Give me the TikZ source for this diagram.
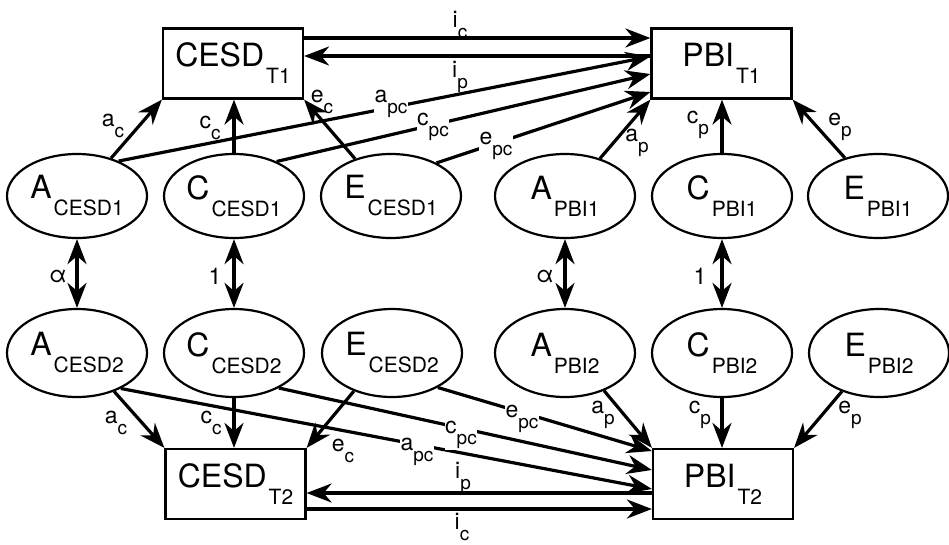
\documentclass[tikz,border=0pt]{standalone}
\usepackage{fontspec}
\setmainfont{TeX Gyre Heros}
\usetikzlibrary{arrows.meta,shapes.geometric}

\newcommand\bigsub[2]{{\fontsize{32}{32}\selectfont #1}\kern2pt\raisebox{-17pt}{\fontsize{21}{21}\selectfont #2}}
\newcommand\smallsub[2]{#1\raisebox{-0.5em}{\fontsize{19}{19}\selectfont #2}}

\begin{document}
\begin{tikzpicture}[x=1pt,y=-1pt,
  lat/.style={draw,ellipse,line width=2.2pt,inner sep=0pt,minimum width=140pt,minimum height=84pt},
  lattwo/.style={lat,minimum height=88pt},
  obs/.style={draw,rectangle,line width=2.2pt,inner sep=0pt,minimum width=140pt,minimum height=70pt},
  arr/.style={line width=3.2pt,-{Stealth[length=25pt,width=19pt,inset=8pt]}},
  cov/.style={line width=3.2pt,{Stealth[length=25pt,width=19pt,inset=8pt]}-{Stealth[length=25pt,width=19pt,inset=8pt]}},
  lbl/.style={inner sep=0.5pt,font=\fontsize{23}{23}\selectfont},
  onlbl/.style={lbl,fill=white}]
\useasboundingbox (0,0) rectangle (949,544);
% observed variables
\node[obs] (cesd1) at (233,63.5) {\bigsub{CESD}{T1}};
\node[obs] (pbi1) at (721.5,63.5) {\bigsub{PBI}{T1}};
\node[obs] (cesd2) at (235.5,484) {\bigsub{CESD}{T2}};
\node[obs] (pbi2) at (723,484) {\bigsub{PBI}{T2}};
% latent factors, time 1
\node[lat] (aC1) at (77,196) {\bigsub{A}{CESD1}};
\node[lat] (cC1) at (234,196) {\bigsub{C}{CESD1}};
\node[lat] (eC1) at (391,196) {\bigsub{E}{CESD1}};
\node[lat] (aP1) at (565,196) {\bigsub{A}{PBI1}};
\node[lat] (cP1) at (722,196) {\bigsub{C}{PBI1}};
\node[lat] (eP1) at (878,196) {\bigsub{E}{PBI1}};
% latent factors, time 2
\node[lattwo] (aC2) at (77,353) {\bigsub{A}{CESD2}};
\node[lattwo] (cC2) at (234,353) {\bigsub{C}{CESD2}};
\node[lattwo] (eC2) at (392,353) {\bigsub{E}{CESD2}};
\node[lattwo] (aP2) at (565,353) {\bigsub{A}{PBI2}};
\node[lattwo] (cP2) at (722,353) {\bigsub{C}{PBI2}};
\node[lattwo] (eP2) at (879,353) {\bigsub{E}{PBI2}};

% cross paths and i paths
\draw[arr] ([yshift=25.5pt]cesd1.east) -- ([yshift=25.5pt]pbi1.west);
\draw[arr] ([yshift=7.5pt]pbi1.west) -- ([yshift=7.5pt]cesd1.east);
\draw[arr] (aC1.40) -- ([yshift=7pt]pbi1.west);
\draw[arr] (cC1.39) -- ([yshift=-10.5pt]pbi1.west);
\draw[arr] (eC1.36) -- ([yshift=-28.5pt]pbi1.west);
\draw[arr] ([yshift=-9pt]pbi2.west) -- ([yshift=-9pt]cesd2.east);
\draw[arr] ([yshift=-25pt]cesd2.east) -- ([yshift=-25pt]pbi2.west);
\draw[arr] (aC2.-39) -- ([yshift=-5pt]pbi2.west);
\draw[arr] (cC2.-38) -- ([yshift=14pt]pbi2.west);
\draw[arr] (eC2.-37) -- ([yshift=33pt]pbi2.west);

% labels on the lines
\node[onlbl] (ec1) at (322,102) {\smallsub{e}{c}};
\node[onlbl] (apc1) at (391,104) {\smallsub{a}{pc}};
\node[onlbl] (cpc1) at (433,127) {\smallsub{c}{pc}};
\node[onlbl] (epc1) at (496,146) {\smallsub{e}{pc}};
\node[onlbl] (apc2) at (417,452) {\smallsub{a}{pc}};
\node[onlbl] (cpc2) at (461,435) {\smallsub{c}{pc}};
\node[onlbl] (epc2) at (522,419) {\smallsub{e}{pc}};

% own paths
\draw[arr] (aC1.48) -- (cesd1.south west);
\draw[arr] (cC1.north) -- (cC1.north |- cesd1.south);
\draw[arr] (eC1.134) -- (cesd1.south east);
\draw[arr] (aP1.47) -- (pbi1.south west);
\draw[arr] (cP1.north) -- (cP1.north |- pbi1.south);
\draw[arr] (eP1.131) -- (pbi1.south east);
\draw[arr] (aC2.-46) -- (cesd2.north west);
\draw[arr] (cC2.south) -- (cC2.south |- cesd2.north);
\draw[arr] (eC2.-135) -- (cesd2.north east);
\draw[arr] (aP2.-44) -- (pbi2.north west);
\draw[arr] (cP2.south) -- (cP2.south |- pbi2.north);
\draw[arr] (eP2.-134) -- (pbi2.north east);

% correlations between twins
\draw[cov] (aC1) -- (aC2);
\draw[cov] (cC1) -- (cC2);
\draw[cov] (aP1) -- (aP2);
\draw[cov] (cP1) -- (cP2);
\node[lbl] (alphaC) at (58,276) {α};
\node[lbl] (oneC) at (215,276) {1};
\node[lbl] (alphaP) at (545,276) {α};
\node[lbl] (oneP) at (700,276) {1};

% other labels
\node[lbl] (ic1) at (460,25) {\smallsub{i}{c}};
\node[lbl] (ip1) at (460,77) {\smallsub{i}{p}};
\node[lbl] (ac1) at (113,126) {\smallsub{a}{c}};
\node[lbl] (cc1) at (210,128) {\smallsub{c}{c}};
\node[lbl] (ap1) at (637,143) {\smallsub{a}{p}};
\node[lbl] (cp1) at (698,125) {\smallsub{c}{p}};
\node[lbl] (ep1) at (840,127) {\smallsub{e}{p}};
\node[lbl] (ac2) at (116,423) {\smallsub{a}{c}};
\node[lbl] (cc2) at (211,423) {\smallsub{c}{c}};
\node[lbl] (ec2) at (343,451) {\smallsub{e}{c}};
\node[lbl] (ip2) at (463,478) {\smallsub{i}{p}};
\node[lbl] (ic2) at (462,527) {\smallsub{i}{c}};
\node[lbl] (ap2) at (603,415) {\smallsub{a}{p}};
\node[lbl] (cp2) at (700,415) {\smallsub{c}{p}};
\node[lbl] (ep2) at (850,415) {\smallsub{e}{p}};
\end{tikzpicture}
\end{document}
